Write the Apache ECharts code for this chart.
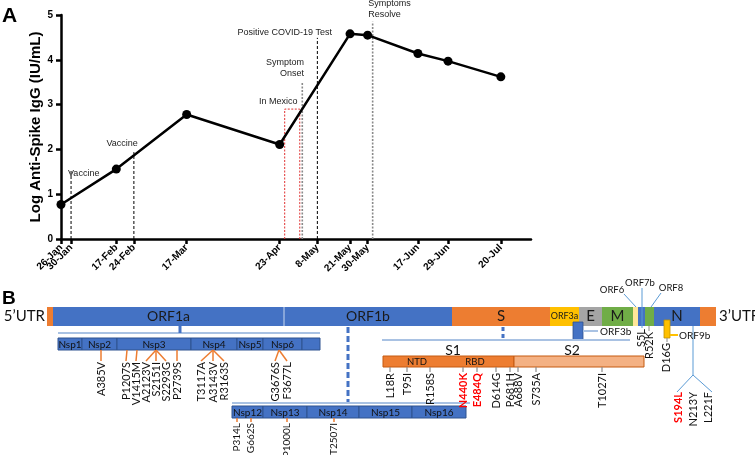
<!DOCTYPE html>
<html><head><meta charset="utf-8">
<script src="https://cdn.jsdelivr.net/npm/echarts@6/dist/echarts.min.js"></script>
<style>html,body{margin:0;padding:0;background:#fff}#c{width:755px;height:455px}</style>
</head><body><div id="c"></div>
<script>
// ---------------- Panel A data ----------------
const tickDays = [26,30,48,55,76,113,128,141,148,168,180,201];
const tickLabels = ['26-Jan','30-Jan','17-Feb','24-Feb','17-Mar','23-Apr','8-May','21-May','30-May','17-Jun','29-Jun','20-Jul'];
const sampleDays = [26,48,76,113,141,148,168,180,201];
const iggValues = [0.77,1.56,2.78,2.11,4.58,4.55,4.14,3.97,3.62];
const eventNames = ['Vaccine','Vaccine','Symptom\nOnset','Positive COVID-19 Test','Symptoms\nResolve'];
const eventDays = [30,55,122,128,150];
const eventTops = [1.54,1.94,3.5,4.49,4.85];
const eventKinds = ['black','black','grey','black','grey'];
const mexicoName = 'In Mexico';
const mexicoDays = [115,121];
const mexicoTop = 2.9;

// ---------------- Panel B data ----------------
const genomeParts = ['5’UTR','ORF1a','ORF1b','S','ORF3a','E','M','ORF6','ORF7','ORF8','N','3’UTR'];
const genomeStart = [47,53,284,452,550,579,602,633,638,645,654,700];
const genomeEnd   = [53,284,452,550,579,602,633,638,645,654,700,716];
const genomeKinds = ['orange','blue','blue','orange','yellow','grey','green','paleYellow','blue','green','blue','orange'];
const nspRow1 = ['Nsp1','Nsp2','Nsp3','Nsp4','Nsp5','Nsp6',''];
const nspRow1Start = [58,82,117,191,237,263,302];
const nspRow1End   = [82,117,191,237,263,302,320];
const nspRow2 = ['Nsp12','Nsp13','Nsp14','Nsp15','Nsp16'];
const nspRow2Start = [232,263,307,359,412];
const nspRow2End   = [263,307,359,412,466];
const orf1aMutations = ['A385V','P1207S','V1415M','A2123V','S2151I','S2293G','P2739S','T3117A','A3143V','R3163S','G3676S','F3677L'];
const orf1aMutFrom = [101,127,137,156,156,156,177,213,213,213,279,279];
const orf1aMutTo   = [101,126,136,146,156,166,177,201,213,224,275,287];
const orf1bMutations = ['P314L','G662S','P1000L','T2507I'];
const orf1bMutAt = [237,251,287,334];
const spikeMutations = ['L18R','T95I','R158S','N440K','E484Q','D614G','P681H','A688V','S735A','T1027I'];
const spikeMutAt = [390,407,430,463,477,496,510,518,536,602];
const spikeMutKey = [false,false,false,true,true,false,false,false,false,false];
const nMutations = ['S194L','N213Y','L221F'];
const nMutAt = [678,693,708];
const nMutKey = [true,false,false];

// ---------------- styles / layout ----------------
const FA = '"Liberation Sans", Arial, Helvetica, sans-serif';
const FB = 'Lato, "Open Sans", sans-serif';
const C = {blue:'#4472c4', blueEdge:'#2f528f', orange:'#ed7d31', orangeEdge:'#c55a11', yellow:'#ffc000', grey:'#a5a5a5',
  green:'#70ad47', paleYellow:'#ffe699', paleOrange:'#f4b183', pale:'#a9c2e3', thin:'#5b9bd5', mutGrey:'#8c8c8c', red:'#ff0000', text:'#111'};
const genomeLabelSize = {'ORF1a':14,'ORF1b':14,'S':15,'ORF3a':9,'E':15,'M':15,'N':15};

const linesA = [], textsA = [];
eventDays.forEach((d,i)=>{
  const grey = eventKinds[i]==='grey';
  linesA.push({pts:[[d,0],[d,eventTops[i]]], color: grey?'#8a8a8a':'#000', lw: grey?1.6:1, dash: grey?[2,1.5]:[3,2]});
});
linesA.push({pts:[[mexicoDays[0],0],[mexicoDays[0],mexicoTop],[mexicoDays[1],mexicoTop],[mexicoDays[1],0]], color:'#e03030', lw:1, dash:[2,1.5]});
const labelAnchorA = [[28.8,1.47,'left'],[50.3,2.14,'center'],[122.7,3.81,'right'],[133.8,4.62,'right'],[148.2,5.14,'left']];
eventNames.forEach((n,i)=>textsA.push({v:[labelAnchorA[i][0],labelAnchorA[i][1]], text:n, align:labelAnchorA[i][2], font:'9px '+FA, color:'#222', lh:11}));
textsA.push({v:[112.4,3.06], text:mexicoName, align:'center', font:'9px '+FA, color:'#222'});
// first tick label (the axis hides it where it overlaps its neighbour), drawn at its tick the way the axis draws labels
textsA.push({v:[tickDays[0],0], text:tickLabels[0], align:'right', rot:Math.PI/4, dy:7, font:'bold 10px '+FA, color:'#000'});

const rects = [], lines = [], texts = [];
const R=(x0,y0,x1,y1,fill,stroke,lw)=>rects.push({v:[x0,y0,x1,y1],fill,stroke,lw});
const Ln=(pts,color,lw,dash)=>lines.push({pts,color,lw,dash});
const T=(x,y,text,o)=>texts.push(Object.assign({v:[x,y],text},o||{}));
const vLabel=(x,y,text,red,size)=>T(x,y,text,{rot:Math.PI/2,align:'right',font:(red?'bold ':'')+(size||11)+'px '+FB,color:red?C.red:C.text});

// panel letters
T(2,16,'A',{align:'left',font:'bold 21px '+FA,color:'#000'});
T(2,299,'B',{align:'left',font:'bold 19px '+FA,color:'#000'});

// genome bar
const gTop=307,gBot=326,gMid=316.5;
genomeParts.forEach((p,i)=>{
  R(genomeStart[i],gTop,genomeEnd[i],gBot,C[genomeKinds[i]],null,0);
  if(genomeLabelSize[p]) T((genomeStart[i]+genomeEnd[i])/2,gMid,p,{font:genomeLabelSize[p]+'px '+FB,color:'#1a1a1a'});
});
Ln([[genomeEnd[1],gTop],[genomeEnd[1],gBot]],'#c9d8ef',1);
T(genomeStart[0]-2,gMid,genomeParts[0],{align:'right',font:'15px '+FB,color:'#111'});
T(genomeEnd[11]+3,gMid,genomeParts[11],{align:'left',font:'15px '+FB,color:'#111'});

// brackets & connectors
Ln([[58,333],[320,333]],C.pale,2);
Ln([[232,403],[470,403]],C.pale,2);
Ln([[382,340],[630,340]],C.pale,2);
Ln([[180,326],[180,333]],C.blue,3);
Ln([[348,327],[348,402]],C.blue,3,[6,3]);
Ln([[503,327],[503,338]],C.blue,3,[4,3]);

// nsp rows
nspRow1.forEach((n,i)=>{R(nspRow1Start[i],338,nspRow1End[i],350,C.blue,C.blueEdge,1); if(n) T((nspRow1Start[i]+nspRow1End[i])/2,344.5,n,{font:'10px '+FB,color:'#111'});});
nspRow2.forEach((n,i)=>{R(nspRow2Start[i],406,nspRow2End[i],418,C.blue,C.blueEdge,1); T((nspRow2Start[i]+nspRow2End[i])/2,412.5,n,{font:'10px '+FB,color:'#111'});});

// ORF1a mutations
orf1aMutations.forEach((m,i)=>{Ln([[orf1aMutFrom[i],350],[orf1aMutTo[i],361]],C.orange,1.5); vLabel(orf1aMutTo[i],362,m,false);});
// ORF1b mutations
orf1bMutations.forEach((m,i)=>{Ln([[orf1bMutAt[i],418],[orf1bMutAt[i],422]],C.orange,1.5); vLabel(orf1bMutAt[i],423,m,false,10);});

// Spike
T(453,350,'S1',{font:'14px '+FB,color:'#111'});
T(572,350,'S2',{font:'14px '+FB,color:'#111'});
R(383,356,514,367,C.orange,C.orangeEdge,1);
R(514,356,644,367,C.paleOrange,C.orangeEdge,1);
T(417,362,'NTD',{font:'9.5px '+FB,color:'#111'});
T(475,362,'RBD',{font:'9.5px '+FB,color:'#111'});
spikeMutations.forEach((m,i)=>{Ln([[spikeMutAt[i],367],[spikeMutAt[i],372]],C.mutGrey,1.2); vLabel(spikeMutAt[i],373,m,spikeMutKey[i]);});

// accessory ORFs
R(573,322,583,340,C.blue,C.blueEdge,0.8);
Ln([[583,331],[598,331]],C.pale,2);
T(600,331.5,'ORF3b',{align:'left',font:'10px '+FB,color:'#111'});
R(664,320,670,338,C.yellow,'#bf9000',0.8);
Ln([[670,335],[678,335]],C.yellow,2);
T(679,336,'ORF9b',{align:'left',font:'10px '+FB,color:'#111'});
Ln([[667,338],[667,342]],C.mutGrey,1);
vLabel(666,343,'D16G',false);
T(612,290,'ORF6',{font:'9.5px '+FB,color:'#111'});
Ln([[624,294],[636,307]],C.thin,1);
T(640,283,'ORF7b',{font:'9.5px '+FB,color:'#111'});
Ln([[642,288],[642,328]],C.thin,1);
vLabel(641,329,'S5L',false);
T(671,288,'ORF8',{font:'9.5px '+FB,color:'#111'});
Ln([[661,293],[651,307]],C.thin,1);
Ln([[649,326],[649,331]],C.mutGrey,1);
vLabel(649,332,'R52K',false);

// N mutations
Ln([[693,326],[693,375]],C.thin,1);
Ln([[677,392],[693,375],[712,392]],C.thin,1);
nMutations.forEach((m,i)=>vLabel(nMutAt[i],392,m,nMutKey[i]));

// ---------------- renderers ----------------
const lineSeries=(arr,ax,z)=>({type:'custom',xAxisIndex:ax,yAxisIndex:ax,clip:false,silent:true,z:z||2,
  data:arr.map(l=>l.pts[0]),
  renderItem:(p,api)=>{const l=arr[p.dataIndex];return {type:'polyline',shape:{points:l.pts.map(q=>api.coord(q))},style:{stroke:l.color,lineWidth:l.lw,lineDash:l.dash||null,fill:null}};}});
const textSeries=(arr,ax,z)=>({type:'custom',xAxisIndex:ax,yAxisIndex:ax,clip:false,silent:true,z:z||4,
  data:arr.map(t=>t.v),
  renderItem:(p,api)=>{const t=arr[p.dataIndex];const c=api.coord(t.v);return {type:'text',x:c[0],y:c[1]+(t.dy||0),rotation:t.rot||0,style:{text:t.text,fill:t.color||'#111',font:t.font,align:t.align||'center',verticalAlign:'middle',lineHeight:t.lh||undefined}};}});
const rectSeries=(arr,ax,z)=>({type:'custom',xAxisIndex:ax,yAxisIndex:ax,clip:false,silent:true,z:z||1,
  data:arr.map(r=>r.v),
  renderItem:(p,api)=>{const r=arr[p.dataIndex];const a=api.coord([r.v[0],r.v[1]]),b=api.coord([r.v[2],r.v[3]]);
    return {type:'rect',shape:{x:a[0],y:a[1],width:b[0]-a[0],height:b[1]-a[1]},style:{fill:r.fill,stroke:r.stroke||null,lineWidth:r.lw||0}};}});

const chart = echarts.init(document.getElementById('c'));
chart.setOption({
  animation:false,
  backgroundColor:'#fff',
  grid:[{left:61,top:15,width:470,height:224},{left:0,top:0,width:755,height:455}],
  xAxis:[
    {type:'value',gridIndex:0,min:26,max:213,
     axisLine:{show:true,onZero:false,lineStyle:{color:'#000',width:2.5}},
     axisTick:{show:true,customValues:tickDays,length:5,lineStyle:{color:'#000',width:2.5}},
     axisLabel:{customValues:tickDays.slice(1),hideOverlap:false,formatter:v=>{const i=tickDays.indexOf(v);return i>=0?tickLabels[i]:'';},rotate:45,fontSize:10,fontWeight:'bold',color:'#000',fontFamily:FA,margin:7},
     splitLine:{show:false}},
    {type:'value',gridIndex:1,min:0,max:755,show:false}
  ],
  yAxis:[
    {type:'value',gridIndex:0,min:0,max:5,interval:1,
     axisLine:{show:true,lineStyle:{color:'#000',width:2.5}},
     axisTick:{show:true,length:5,lineStyle:{color:'#000',width:2.5}},
     axisLabel:{fontSize:10,fontWeight:'bold',color:'#000',fontFamily:FA,margin:8},
     splitLine:{show:false},
     name:'Log Anti-Spike IgG (IU/mL)',nameLocation:'middle',nameGap:18,nameMoveOverlap:false,
     nameTextStyle:{fontSize:15,fontWeight:'bold',color:'#000',fontFamily:FA}},
    {type:'value',gridIndex:1,min:0,max:455,inverse:true,show:false}
  ],
  series:[
    lineSeries(linesA,0,2),
    {type:'line',xAxisIndex:0,yAxisIndex:0,data:sampleDays.map((d,i)=>[d,iggValues[i]]),symbol:'circle',symbolSize:9,
     lineStyle:{color:'#000',width:2.5},itemStyle:{color:'#000'},z:5,silent:true},
    textSeries(textsA,0,6),
    rectSeries(rects,1,1),
    lineSeries(lines,1,3),
    textSeries(texts,1,4)
  ]
});
</script></body></html>
